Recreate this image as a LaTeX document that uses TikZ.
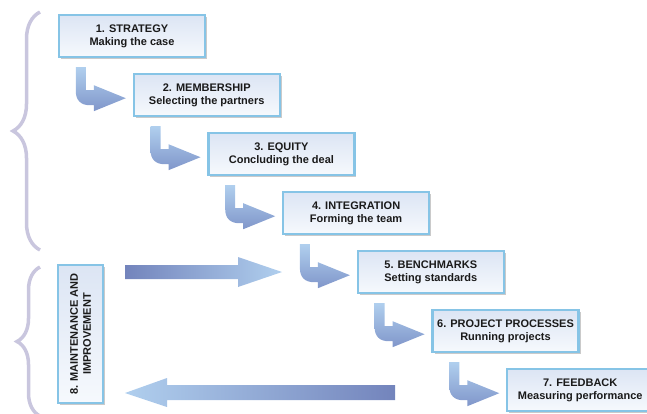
\documentclass[tikz,border=0pt]{standalone}
\usepackage{fontspec}
\setmainfont{Liberation Sans}
\usetikzlibrary{calc,shadows,decorations.pathreplacing}
\definecolor{boxline}{HTML}{86C4E6}
\definecolor{boxtop}{HTML}{DCE5F4}
\definecolor{boxbot}{HTML}{F6F9FD}
\definecolor{arrlight}{HTML}{B0CFEE}
\definecolor{arrdark}{HTML}{8096CA}
\definecolor{bigdark}{HTML}{7384BC}
\definecolor{bracecol}{HTML}{C9C6DE}
\definecolor{txt}{HTML}{1A1A1A}
\newcommand\bentarrow[1]{%
  \shade[top color=arrlight, bottom color=arrdark, shift={(#1.south west)}]
    (18,9) -- (28,9) -- (28,32) -- (36,32) -- (36,27) -- (68,40) -- (36,53) -- (36,47)
    -- (32,47) .. controls (23,47) and (18,42) .. (18,33) -- cycle;}
\begin{document}
\begin{tikzpicture}[x=1pt,y=-1pt,
  stepbox/.style={draw=boxline, line width=2.4pt, top color=boxtop, bottom color=boxbot,
    minimum width=146pt, minimum height=42pt, inner sep=0pt, align=center, text=txt,
    font=\fontsize{11}{13}\selectfont\bfseries,
    drop shadow={shadow xshift=2pt, shadow yshift=-2pt, opacity=0.35, fill=black!60}},
  bracestyle/.style={draw=bracecol, line width=3.5pt, decorate}]
\useasboundingbox (0,0) rectangle (647,413);
% braces
\draw[bracestyle, decoration={brace, amplitude=27pt}] (40,250) -- (40,12);
\draw[bracestyle, decoration={brace, amplitude=23pt}] (40,416) -- (40,267);
% boxes
\node[stepbox] (b1) at (132,36)    {1. STRATEGY\\Making the case};
\node[stepbox] (b2) at (206.7,95)  {2. MEMBERSHIP\\Selecting the partners};
\node[stepbox] (b3) at (281.4,154) {3. EQUITY\\Concluding the deal};
\node[stepbox] (b4) at (356.1,213) {4. INTEGRATION\\Forming the team};
\node[stepbox] (b5) at (430.8,272) {5. BENCHMARKS\\Setting standards};
\node[stepbox] (b6) at (505.5,331) {6. PROJECT PROCESSES\\Running projects};
\node[stepbox] (b7) at (580.2,390) {7. FEEDBACK\\Measuring performance};
\node[stepbox, minimum width=138pt, minimum height=45pt, rotate=90]
  (b8) at (80.5,334) {8. MAINTENANCE AND\\IMPROVEMENT};
% bent arrows
\bentarrow{b1}
\bentarrow{b2}
\bentarrow{b3}
\bentarrow{b4}
\bentarrow{b5}
\bentarrow{b6}
% big arrows
\coordinate (ra) at (125,272);
\coordinate (la) at (395,393);
\shade[left color=bigdark, right color=arrlight]
  (ra) ++(0,-7) -- ++(113,0) -- ++(0,-8) -- ++(44,15) -- ++(-44,15) -- ++(0,-8) -- ++(-113,0) -- cycle;
\shade[left color=arrlight, right color=bigdark]
  (la) ++(0,-8) -- ++(-228,0) -- ++(0,-7) -- ++(-42,15) -- ++(42,14) -- ++(0,-7) -- ++(228,0) -- cycle;
\end{tikzpicture}
\end{document}
